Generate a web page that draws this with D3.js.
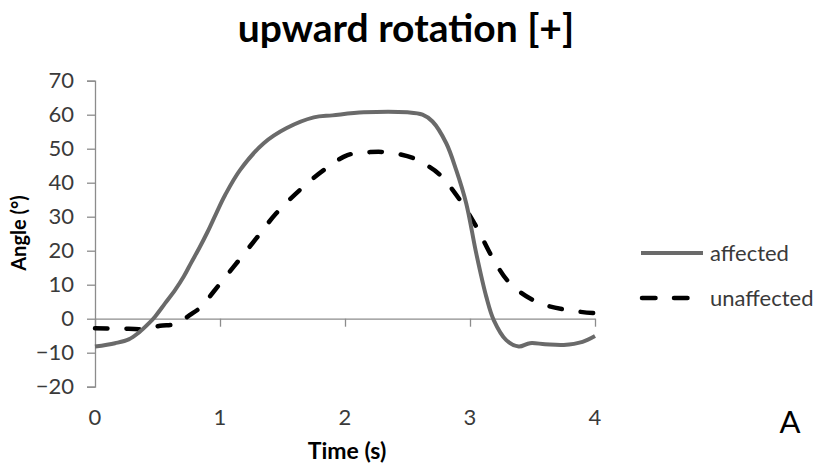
<!DOCTYPE html>
<html>
<head>
<meta charset="utf-8">
<script src="https://cdn.jsdelivr.net/npm/d3@7"></script>
<style>
  html, body { margin: 0; padding: 0; background: #fff; }
  svg { display: block; }
  text { font-family: Lato, "Open Sans", sans-serif; }
</style>
</head>
<body>
<svg id="chart" width="820" height="469"></svg>
<script>
// ---- data ----
const title = "upward rotation [+]";
const xLabel = "Time (s)";
const yLabel = "Angle (°)";
const panelLetter = "A";
const xTicks = [0, 1, 2, 3, 4];
const yTicks = [-20, -10, 0, 10, 20, 30, 40, 50, 60, 70];
const seriesNames = ["affected", "unaffected"];

const affectedTime = [0, 0.16, 0.27, 0.35, 0.43, 0.48, 0.56, 0.64, 0.71, 0.77, 0.83, 0.9, 0.97, 1.04, 1.16, 1.35, 1.53, 1.75, 1.9, 2.15, 2.5, 2.62, 2.7, 2.81, 2.89, 2.97, 3.05, 3.13, 3.19, 3.29, 3.39, 3.48, 3.6, 3.75, 3.9, 4.0];
const affectedAngle = [-8.2, -7.2, -6.1, -4.1, -1.4, 0.6, 4.5, 8.4, 12.4, 16.5, 20.5, 25.5, 31, 36.3, 43.7, 51.6, 56, 59.2, 59.8, 60.7, 60.7, 60, 58, 51.6, 43.7, 33.9, 19.2, 6.5, -0.4, -6.3, -8.2, -7.2, -7.5, -7.7, -6.8, -5.1];

const unaffectedTime = [0, 0.2, 0.4, 0.52, 0.64, 0.7, 0.76, 0.85, 0.95, 1.11, 1.29, 1.45, 1.64, 1.83, 2.02, 2.2, 2.35, 2.55, 2.66, 2.76, 2.92, 3.05, 3.19, 3.32, 3.53, 3.77, 4.0];
const unaffectedAngle = [-2.8, -2.9, -3.0, -2.1, -1.6, -0.4, 1.1, 3.5, 8, 15.3, 23.6, 31, 37.9, 43.7, 48.1, 49, 48.9, 47.2, 45, 42.3, 34.9, 27.1, 17.3, 10.4, 5, 2.6, 1.6];

// ---- layout ----
const svg = d3.select("#chart");
const x = d3.scaleLinear().domain([0, 4]).range([95, 595]);
const y = d3.scaleLinear().domain([-20, 70]).range([386.7, 80.7]);
const axisColor = "#8c8c8c";
const labelColor = "#3a3a3a";

// title
svg.append("text")
  .attr("x", 406).attr("y", 42)
  .attr("text-anchor", "middle")
  .attr("font-size", 39).attr("font-weight", 700)
  .attr("fill", "#000")
  .text(title);

// y axis
const yAxis = svg.append("g")
  .attr("transform", `translate(${x(0)},0)`)
  .call(d3.axisLeft(y).tickValues(yTicks).tickSize(8).tickPadding(13).tickFormat(d3.format("d")));
yAxis.select(".domain").attr("stroke", axisColor).attr("stroke-width", 1.3);
yAxis.selectAll(".tick line").attr("stroke", axisColor).attr("stroke-width", 1.3);
yAxis.selectAll(".tick text")
  .attr("font-family", "Lato, sans-serif")
  .attr("font-size", 22).attr("fill", labelColor);

// x axis (at y = 0)
const xAxis = svg.append("g")
  .attr("transform", `translate(0,${y(0)})`)
  .call(d3.axisBottom(x).tickValues(xTicks).tickSize(8).tickSizeOuter(0).tickFormat(d3.format("d")));
xAxis.select(".domain").attr("stroke", axisColor).attr("stroke-width", 1.3);
xAxis.selectAll(".tick line").attr("stroke", axisColor).attr("stroke-width", 1.3);
xAxis.selectAll(".tick text").remove();

// x tick labels at the bottom of the plot
svg.append("g").selectAll("text")
  .data(xTicks)
  .join("text")
  .attr("x", d => x(d))
  .attr("y", 425)
  .attr("text-anchor", "middle")
  .attr("font-size", 22).attr("fill", labelColor)
  .text(d => d);

// axis titles
svg.append("text")
  .attr("x", 347).attr("y", 459)
  .attr("text-anchor", "middle")
  .attr("font-size", 23).attr("font-weight", 700).attr("fill", "#000")
  .text(xLabel);

svg.append("text")
  .attr("transform", "translate(26,233) rotate(-90)")
  .attr("text-anchor", "middle")
  .attr("font-size", 20).attr("font-weight", 700).attr("fill", "#000")
  .text(yLabel);

// lines
const line = d3.line()
  .x(d => x(d[0]))
  .y(d => y(d[1]))
  .curve(d3.curveCatmullRom.alpha(0.5));

const affected = affectedTime.map((t, i) => [t, affectedAngle[i]]);
const unaffected = unaffectedTime.map((t, i) => [t, unaffectedAngle[i]]);

svg.append("path")
  .datum(unaffected)
  .attr("d", line)
  .attr("fill", "none")
  .attr("stroke", "#000")
  .attr("stroke-width", 4.5)
  .attr("stroke-linecap", "round")
  .attr("stroke-dasharray", "12.5,19");

svg.append("path")
  .datum(affected)
  .attr("d", line)
  .attr("fill", "none")
  .attr("stroke", "#6a6a6a")
  .attr("stroke-width", 4)
  .attr("stroke-linejoin", "round");

// legend
const legend = svg.append("g");
legend.append("line")
  .attr("x1", 641).attr("x2", 703).attr("y1", 253).attr("y2", 253)
  .attr("stroke", "#6a6a6a").attr("stroke-width", 4);
legend.append("line")
  .attr("x1", 642).attr("x2", 689).attr("y1", 298).attr("y2", 298)
  .attr("stroke", "#000").attr("stroke-width", 4.5)
  .attr("stroke-linecap", "round").attr("stroke-dasharray", "13.5,18.5");
legend.selectAll("text.lg")
  .data(seriesNames)
  .join("text")
  .attr("class", "lg")
  .attr("x", 710)
  .attr("y", (d, i) => 253 + i * 45)
  .attr("dy", "0.35em")
  .attr("font-size", 22).attr("fill", labelColor)
  .text(d => d);

// panel letter
svg.append("text")
  .attr("x", 790).attr("y", 433)
  .attr("text-anchor", "middle")
  .attr("font-size", 31).attr("fill", "#000")
  .text(panelLetter);
</script>
</body>
</html>
